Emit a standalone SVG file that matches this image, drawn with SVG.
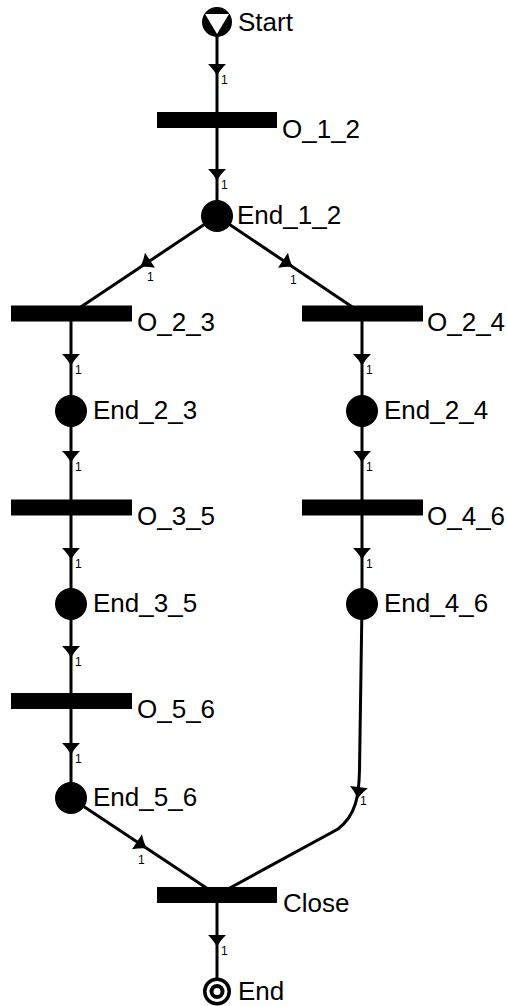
<svg xmlns="http://www.w3.org/2000/svg" xmlns:xlink="http://www.w3.org/1999/xlink" width="507" height="1006" viewBox="0 0 507 1006">
  <style>
    .arc { fill: none; stroke: #000; stroke-width: 3; }
    .place { fill: #000; }
    .trans { fill: #000; }
    .lbl { font-family: "Liberation Sans", Arial, sans-serif; font-size: 26px; fill: #000; }
    .w { font-family: "Liberation Sans", Arial, sans-serif; font-size: 12px; fill: #000; }
  </style>
  <defs>
    <!-- arrowhead pointing along +x, tip at origin -->
    <path id="ah" d="M0,0 Q-5.5,-2.5 -12,-9 L-12,9 Q-5.5,2.5 0,0 Z" fill="#000"/>
  </defs>

  <rect width="507" height="1006" fill="#fff"/>

  <!-- arcs -->
  <g id="connectors">
    <path class="arc" d="M217,22 L217,120"/>
    <path class="arc" d="M217,120 L217,216"/>
    <path class="arc" d="M217,216 L71,313.5"/>
    <path class="arc" d="M217,216 L362,313.5"/>
    <path class="arc" d="M71,313.5 L71,798"/>
    <path class="arc" d="M362,313.5 L362,604"/>
    <path class="arc" d="M71,798 L217,895"/>
    <path class="arc" d="M362,604 L359.5,770 C359,796 356,815 338,829 L217,895"/>
    <path class="arc" d="M217,895 L217,991"/>

    <use xlink:href="#ah" href="#ah" transform="translate(217,76) rotate(90)"/>
    <text class="w" x="221" y="84">1</text>
    <use xlink:href="#ah" href="#ah" transform="translate(217,181) rotate(90)"/>
    <text class="w" x="221" y="189">1</text>

    <use xlink:href="#ah" href="#ah" transform="translate(140,267) rotate(146.2)"/>
    <text class="w" x="147" y="281">1</text>
    <use xlink:href="#ah" href="#ah" transform="translate(293,267) rotate(33.8)"/>
    <text class="w" x="290" y="284">1</text>

    <use xlink:href="#ah" href="#ah" transform="translate(71,366) rotate(90)"/>
    <text class="w" x="75" y="374">1</text>
    <use xlink:href="#ah" href="#ah" transform="translate(71,463) rotate(90)"/>
    <text class="w" x="75" y="471">1</text>
    <use xlink:href="#ah" href="#ah" transform="translate(71,560) rotate(90)"/>
    <text class="w" x="75" y="568">1</text>
    <use xlink:href="#ah" href="#ah" transform="translate(71,658) rotate(90)"/>
    <text class="w" x="75" y="666">1</text>
    <use xlink:href="#ah" href="#ah" transform="translate(71,755) rotate(90)"/>
    <text class="w" x="75" y="763">1</text>

    <use xlink:href="#ah" href="#ah" transform="translate(362,366) rotate(90)"/>
    <text class="w" x="366" y="374">1</text>
    <use xlink:href="#ah" href="#ah" transform="translate(362,463) rotate(90)"/>
    <text class="w" x="366" y="471">1</text>
    <use xlink:href="#ah" href="#ah" transform="translate(362,560) rotate(90)"/>
    <text class="w" x="366" y="568">1</text>

    <use xlink:href="#ah" href="#ah" transform="translate(147,848.5) rotate(33.6)"/>
    <text class="w" x="138" y="864">1</text>
    <use xlink:href="#ah" href="#ah" transform="translate(357.5,799) rotate(97)"/>
    <text class="w" x="360" y="805">1</text>

    <use xlink:href="#ah" href="#ah" transform="translate(217,947) rotate(90)"/>
    <text class="w" x="221" y="955">1</text>
  </g>

  <!-- places -->
  <g id="Start">
    <circle class="place" cx="217" cy="22" r="15"/>
    <polygon points="205,14 229,14 217,34" fill="#fff"/>
    <text class="lbl" x="238" y="31">Start</text>
  </g>
  <g id="End_1_2">
    <circle class="place" cx="217" cy="216" r="16"/>
    <text class="lbl" x="237" y="224">End_1_2</text>
  </g>
  <g id="End_2_3">
    <circle class="place" cx="71" cy="411" r="16"/>
    <text class="lbl" x="93" y="419">End_2_3</text>
  </g>
  <g id="End_2_4">
    <circle class="place" cx="362" cy="411" r="16"/>
    <text class="lbl" x="384" y="419">End_2_4</text>
  </g>
  <g id="End_3_5">
    <circle class="place" cx="71" cy="604" r="16"/>
    <text class="lbl" x="93" y="612">End_3_5</text>
  </g>
  <g id="End_4_6">
    <circle class="place" cx="362" cy="604" r="16"/>
    <text class="lbl" x="384" y="612">End_4_6</text>
  </g>
  <g id="End_5_6">
    <circle class="place" cx="71" cy="798" r="16"/>
    <text class="lbl" x="93" y="806">End_5_6</text>
  </g>
  <g id="End">
    <circle cx="217" cy="991.5" r="14" fill="#000"/>
    <circle cx="217" cy="991.5" r="10.5" fill="#fff"/>
    <circle cx="217" cy="991.5" r="7.5" fill="#000"/>
    <circle cx="217" cy="991.5" r="3.5" fill="#fff"/>
    <text class="lbl" x="238" y="1000">End</text>
  </g>

  <!-- transitions -->
  <g id="O_1_2">
    <rect class="trans" x="157" y="112" width="120" height="16"/>
    <text class="lbl" x="282" y="138">O_1_2</text>
  </g>
  <g id="O_2_3">
    <rect class="trans" x="11" y="305.5" width="121" height="16"/>
    <text class="lbl" x="137" y="331">O_2_3</text>
  </g>
  <g id="O_2_4">
    <rect class="trans" x="302" y="305.5" width="121" height="16"/>
    <text class="lbl" x="427" y="331">O_2_4</text>
  </g>
  <g id="O_3_5">
    <rect class="trans" x="11" y="499.5" width="121" height="16"/>
    <text class="lbl" x="137" y="525">O_3_5</text>
  </g>
  <g id="O_4_6">
    <rect class="trans" x="302" y="499.5" width="121" height="16"/>
    <text class="lbl" x="427" y="525">O_4_6</text>
  </g>
  <g id="O_5_6">
    <rect class="trans" x="11" y="693" width="121" height="16"/>
    <text class="lbl" x="137" y="718">O_5_6</text>
  </g>
  <g id="Close">
    <rect class="trans" x="157" y="887" width="120" height="16"/>
    <text class="lbl" x="283" y="912">Close</text>
  </g>
</svg>
